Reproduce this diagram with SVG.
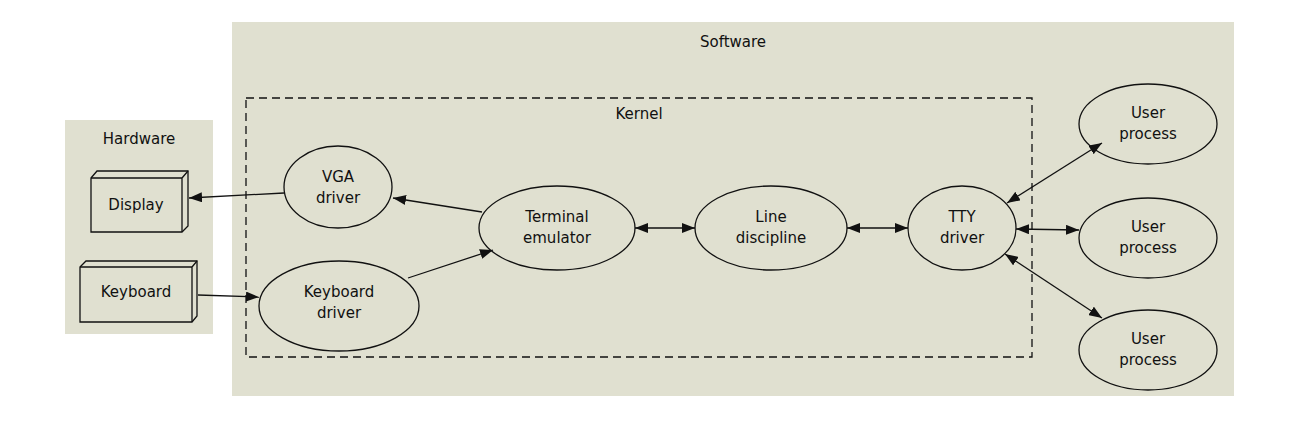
<svg xmlns="http://www.w3.org/2000/svg" width="1304" height="422" viewBox="0 0 1304 422">
<style>
text{font-family:"DejaVu Sans",sans-serif;font-size:15px;fill:#111;text-anchor:middle}
.n{fill:none;stroke:#111;stroke-width:1.3}
.c{stroke:#111;stroke-width:1.3;fill:none}
.b{fill:#e0e0d0;stroke:#111;stroke-width:1.3}
</style>
<defs>
<marker id="a" viewBox="0 0 13 10" refX="13" refY="5" markerWidth="13" markerHeight="10" orient="auto-start-reverse" markerUnits="userSpaceOnUse"><path d="M0,0L13,5L0,10z" fill="#111"/></marker>
</defs>
<rect width="1304" height="422" fill="#fff"/>
<g id="software"><rect x="232" y="22" width="1002" height="374" fill="#e0e0d0"/><text x="733" y="47">Software</text></g>
<g id="hardware"><rect x="65" y="120" width="148" height="214" fill="#e0e0d0"/><text x="139" y="144">Hardware</text></g>
<g id="kernel"><rect x="246" y="98" width="786" height="259" fill="none" stroke="#111" stroke-width="1.3" stroke-dasharray="8,5"/><text x="639" y="119">Kernel</text></g>
<g id="display"><path class="b" d="M91,178L97,171H188V226L182,232H91Z"/><path class="c" d="M91,178H182V232M182,178L188,171"/><text x="136" y="210">Display</text></g>
<g id="keyboard"><path class="b" d="M80,267L86,261H197V316L192,322H80Z"/><path class="c" d="M80,267H192V322M192,267L197,261"/><text x="136" y="297">Keyboard</text></g>
<g id="vga"><ellipse class="n" cx="338" cy="187" rx="54" ry="41"/><text x="338" y="182">VGA</text><text x="338" y="203">driver</text></g>
<g id="kbd"><ellipse class="n" cx="339" cy="306" rx="80" ry="45"/><text x="339" y="297">Keyboard</text><text x="339" y="318">driver</text></g>
<g id="term"><ellipse class="n" cx="557" cy="228" rx="78" ry="42"/><text x="557" y="222">Terminal</text><text x="557" y="243">emulator</text></g>
<g id="line"><ellipse class="n" cx="771" cy="228" rx="76" ry="42"/><text x="771" y="222">Line</text><text x="771" y="243">discipline</text></g>
<g id="tty"><ellipse class="n" cx="962" cy="228" rx="54" ry="42"/><text x="962" y="222">TTY</text><text x="962" y="243">driver</text></g>
<g id="up1"><ellipse class="n" cx="1148" cy="124" rx="69" ry="40"/><text x="1148" y="118">User</text><text x="1148" y="139">process</text></g>
<g id="up2"><ellipse class="n" cx="1148" cy="238" rx="69" ry="40"/><text x="1148" y="232">User</text><text x="1148" y="253">process</text></g>
<g id="up3"><ellipse class="n" cx="1148" cy="350" rx="69" ry="40"/><text x="1148" y="344">User</text><text x="1148" y="365">process</text></g>
<g id="edges">
<path class="c" d="M284,193L189,198" marker-end="url(#a)"/>
<path class="c" d="M198,295L259,297" marker-end="url(#a)"/>
<path class="c" d="M482,212L393,198" marker-end="url(#a)"/>
<path class="c" d="M408,278L493,250" marker-end="url(#a)"/>
<path class="c" d="M635,228L695,228" marker-start="url(#a)" marker-end="url(#a)"/>
<path class="c" d="M847,228L908,228" marker-start="url(#a)" marker-end="url(#a)"/>
<path class="c" d="M1007,203L1102,143" marker-start="url(#a)" marker-end="url(#a)"/>
<path class="c" d="M1016,229L1079,230" marker-start="url(#a)" marker-end="url(#a)"/>
<path class="c" d="M1005,254L1102,318" marker-start="url(#a)" marker-end="url(#a)"/>
</g>
</svg>
